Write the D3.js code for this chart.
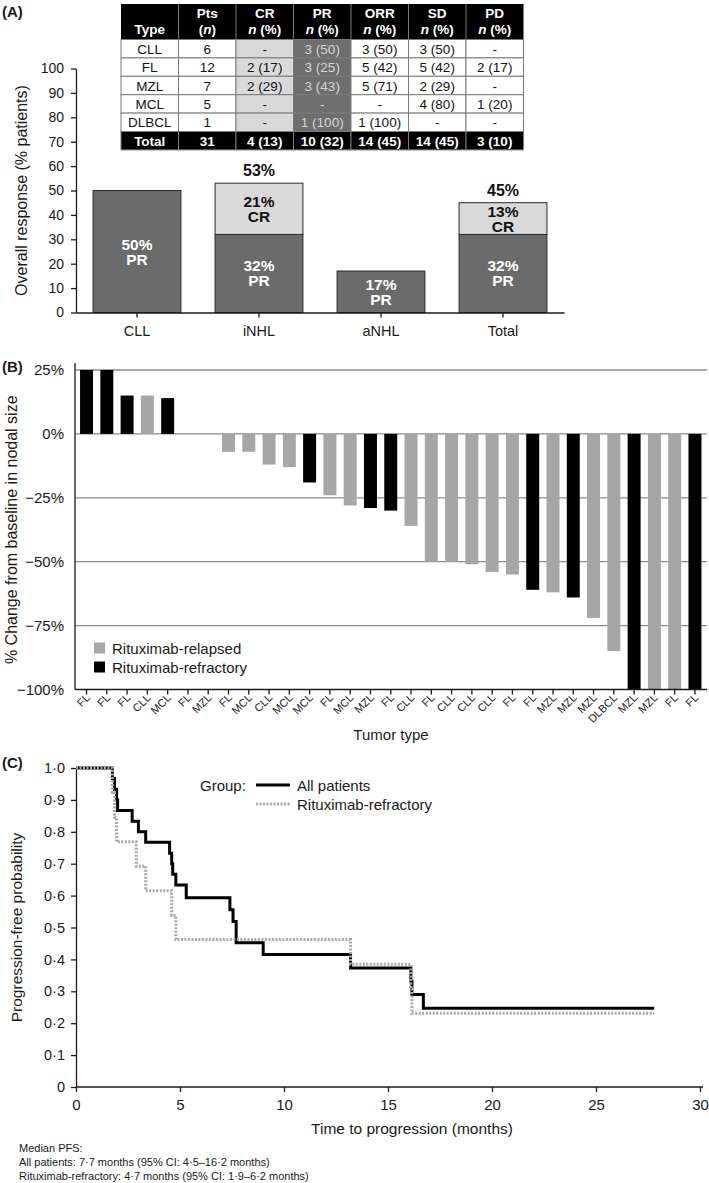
<!DOCTYPE html>
<html><head><meta charset="utf-8">
<script src="https://cdn.jsdelivr.net/npm/d3@7"></script>
<style>
body{margin:0;background:#fff;}
svg{display:block;}
</style></head><body>
<svg id="c" width="709" height="1183"></svg>
<script>
// ---------- Panel A data ----------
const groupsA = ["CLL","iNHL","aNHL","Total"];
const prA = [50,32,17,32];
const crA = [0,21,0,13];
const orrA = [50,53,17,45];
const orrLabelA = ["","53%","","45%"];
const yTicksA = [0,10,20,30,40,50,60,70,80,90,100];

// table
const tableTypes = ["CLL","FL","MZL","MCL","DLBCL","Total"];
const tablePts = ["6","12","7","5","1","31"];
const tableCR  = ["-","2 (17)","2 (29)","-","-","4 (13)"];
const tablePR  = ["3 (50)","3 (25)","3 (43)","-","1 (100)","10 (32)"];
const tableORR = ["3 (50)","5 (42)","5 (71)","-","1 (100)","14 (45)"];
const tableSD  = ["3 (50)","5 (42)","2 (29)","4 (80)","-","14 (45)"];
const tablePD  = ["-","2 (17)","-","1 (20)","-","3 (10)"];
const tableHead = ["Type","Pts","CR","PR","ORR","SD","PD"];

// ---------- Panel B data ----------
const tumorTypes = ["FL","FL","FL","CLL","MCL","FL","MZL","FL","MCL","CLL","MCL","MCL","FL","MCL","MZL","FL","CLL","FL","CLL","CLL","CLL","FL","FL","MZL","MZL","MZL","DLBCL","MZL","MZL","FL","FL"];
const nodalChange = [25,25,15,15,14,0,0,-7,-7,-12,-13,-19,-24,-28,-29,-30,-36,-50,-50,-51,-54,-55,-61,-62,-64,-72,-85,-100,-100,-100,-100];
const rituxStatus = ["ref","ref","ref","rel","ref","rel","rel","rel","rel","rel","rel","ref","rel","rel","ref","ref","rel","rel","rel","rel","rel","rel","ref","rel","ref","rel","rel","ref","rel","rel","ref"];
const yTicksB = [25,0,-25,-50,-75,-100];

// ---------- Panel C data ----------
const kmAllTime = [0,1.75,1.85,1.95,2.0,2.7,3.0,3.35,4.5,4.6,4.65,4.8,5.3,7.4,7.55,7.7,9.0,13.2,16.1,16.15,16.7,27.8];
const kmAllSurv = [1,0.967,0.933,0.9,0.867,0.833,0.8,0.767,0.733,0.7,0.667,0.633,0.593,0.556,0.519,0.452,0.415,0.373,0.332,0.29,0.247,0.247];
const kmRefTime = [0,1.75,1.85,1.95,2.9,3.35,4.6,4.8,13.2,16.1,16.15,27.8];
const kmRefSurv = [1,0.923,0.846,0.769,0.692,0.615,0.538,0.462,0.385,0.308,0.231,0.231];
const xTicksC = [0,5,10,15,20,25,30];
const yTicksC = [0,0.1,0.2,0.3,0.4,0.5,0.6,0.7,0.8,0.9,1.0];

// ---------- setup ----------
const FONT = '"Liberation Sans", Arial, Helvetica, sans-serif';
const INK = "#1a1a1a";
const svg = d3.select("#c").attr("font-family", FONT);

function styleAxis(g, fs){
  g.attr("font-family", FONT).attr("font-size", fs);
  g.selectAll("text").attr("fill", INK);
  g.selectAll(".tick line").attr("stroke", INK).attr("stroke-width", 1.3);
  g.select(".domain").attr("stroke", INK).attr("stroke-width", 1.3);
}
function panelLabel(t, y){
  svg.append("text").attr("x", 2).attr("y", y).attr("font-weight","bold").attr("font-size",15).attr("fill",INK).text(t);
}

// ================= Panel A =================
panelLabel("(A)", 17);
const xA = d3.scaleBand().domain(groupsA).range([76,564]).paddingInner(0.28).paddingOuter(0.14);
const yA = d3.scaleLinear().domain([0,100]).range([312.5,68.5]);
const gA = svg.append("g");

gA.append("g").attr("transform","translate(76,0)")
  .call(d3.axisLeft(yA).tickValues(yTicksA).tickSize(5).tickSizeOuter(0).tickPadding(7))
  .call(g=>styleAxis(g,14));

gA.selectAll("rect.pr").data(groupsA).join("rect").attr("class","pr")
  .attr("x", d=>xA(d)).attr("width", xA.bandwidth())
  .attr("y", (d,i)=>yA(prA[i])).attr("height", (d,i)=>yA(0)-yA(prA[i]))
  .attr("fill","#6b6b6b").attr("stroke","#2a2a2a").attr("stroke-width",1);
gA.selectAll("rect.cr").data(groupsA.filter((d,i)=>crA[i]>0)).join("rect").attr("class","cr")
  .attr("x", d=>xA(d)).attr("width", xA.bandwidth())
  .attr("y", d=>{const i=groupsA.indexOf(d); return yA(prA[i]+crA[i]);})
  .attr("height", d=>{const i=groupsA.indexOf(d); return yA(prA[i])-yA(prA[i]+crA[i]);})
  .attr("fill","#d9d9d9").attr("stroke","#2a2a2a").attr("stroke-width",1);

function twoLine(g, cx, cy, l1, l2, col){
  const t = g.append("text").attr("x",cx).attr("text-anchor","middle").attr("font-weight","bold")
    .attr("font-size",15.5).attr("fill",col);
  t.append("tspan").attr("x",cx).attr("y",cy-2).text(l1);
  t.append("tspan").attr("x",cx).attr("y",cy+13).text(l2);
}
groupsA.forEach((d,i)=>{
  const cx = xA(d)+xA.bandwidth()/2;
  twoLine(gA, cx, yA(prA[i]/2), prA[i]+"%", "PR", "#ffffff");
  if(crA[i]>0) twoLine(gA, cx, yA(prA[i]+crA[i]/2), crA[i]+"%", "CR", "#111");
  if(orrLabelA[i]) gA.append("text").attr("x",cx).attr("y",yA(orrA[i])-7).attr("text-anchor","middle")
    .attr("font-weight","bold").attr("font-size",16).attr("fill","#111").text(orrLabelA[i]);
});

gA.append("g").attr("transform",`translate(0,${yA(0)})`)
  .call(d3.axisBottom(xA).tickSize(5).tickSizeOuter(0).tickPadding(8))
  .call(g=>styleAxis(g,14.5));

gA.append("text").attr("transform",`translate(27,${(yA(0)+yA(100))/2}) rotate(-90)`)
  .attr("text-anchor","middle").attr("font-size",16).attr("fill",INK).text("Overall response (% patients)");

// ---- table ----
const tblX = 121, colW = 57.5, headTop = 4, headH = 35.5, rowH = 18.4;
const cols = [tableTypes, tablePts, tableCR, tablePR, tableORR, tableSD, tablePD];
const colFill = ["#fff","#fff","#d9d9d9","#6e6e6e","#fff","#fff","#fff"];
const colText = ["#111","#111","#111","#d6d6d6","#111","#111","#111"];
const gT = svg.append("g").attr("font-size",13.5);
// header
gT.append("rect").attr("x",tblX).attr("y",headTop).attr("width",colW*7).attr("height",headH).attr("fill","#000");
tableHead.forEach((h,c)=>{
  const cx = tblX + c*colW + colW/2;
  if(c===0){
    gT.append("text").attr("x",cx).attr("y",headTop+30).attr("text-anchor","middle").attr("font-weight","bold").attr("fill","#fff").text(h);
  } else {
    gT.append("text").attr("x",cx).attr("y",headTop+14).attr("text-anchor","middle").attr("font-weight","bold").attr("fill","#fff").text(h);
    const t2 = gT.append("text").attr("x",cx).attr("y",headTop+30).attr("text-anchor","middle").attr("font-weight","bold").attr("fill","#fff");
    if(c===1){ t2.append("tspan").text("("); t2.append("tspan").attr("font-style","italic").text("n"); t2.append("tspan").text(")"); }
    else { t2.append("tspan").attr("font-style","italic").text("n"); t2.append("tspan").text(" (%)"); }
  }
  if(c>0) gT.append("line").attr("x1",tblX+c*colW).attr("x2",tblX+c*colW).attr("y1",headTop).attr("y2",headTop+headH).attr("stroke","#777").attr("stroke-width",1);
});
// body rows
tableTypes.forEach((tp,r)=>{
  const y0 = headTop + headH + r*rowH;
  const isTotal = r===tableTypes.length-1;
  cols.forEach((col,c)=>{
    const x0 = tblX + c*colW;
    gT.append("rect").attr("x",x0).attr("y",y0).attr("width",colW).attr("height",rowH)
      .attr("fill", isTotal ? "#000" : colFill[c]).attr("stroke", "#7a7a7a").attr("stroke-width",1);
    gT.append("text").attr("x",x0+colW/2).attr("y",y0+rowH/2+0.5).attr("dominant-baseline","central")
      .attr("text-anchor","middle").attr("font-weight", isTotal?"bold":"normal")
      .attr("fill", isTotal ? "#fff" : colText[c]).text(col[r]);
  });
});

// ================= Panel B =================
panelLabel("(B)", 372);
const xB = d3.scaleBand().domain(d3.range(nodalChange.length)).range([76.4,705.1]).paddingInner(0.36).paddingOuter(0.18);
const yB = d3.scaleLinear().domain([-100,25]).range([689.5,370]);
const gB = svg.append("g");
const colorB = d3.scaleOrdinal().domain(["rel","ref"]).range(["#a6a6a6","#000000"]);

gB.selectAll("line.grid").data([25,0,-25,-50,-75]).join("line").attr("class","grid")
  .attr("x1",75).attr("x2",707).attr("y1",d=>yB(d)).attr("y2",d=>yB(d))
  .attr("stroke","#8c8c8c").attr("stroke-width",1.3);

gB.selectAll("rect").data(nodalChange).join("rect")
  .attr("x",(d,i)=>xB(i)).attr("width",xB.bandwidth())
  .attr("y",d=>yB(Math.max(0,d))).attr("height",d=>Math.abs(yB(d)-yB(0)))
  .attr("fill",(d,i)=>colorB(rituxStatus[i]));

gB.append("g").attr("transform","translate(75,0)")
  .call(d3.axisLeft(yB).tickValues(yTicksB).tickSize(0).tickPadding(11).tickFormat(d=>(d<0?"\u2212"+(-d):d)+"%"))
  .call(g=>styleAxis(g,15))
  .call(g=>g.select(".domain").remove());
gB.append("line").attr("x1",75).attr("x2",75).attr("y1",363).attr("y2",yB(-100)).attr("stroke",INK).attr("stroke-width",1.3);

const axB = gB.append("g").attr("transform",`translate(0,${yB(-100)})`)
  .call(d3.axisBottom(xB).tickSize(5).tickSizeOuter(0).tickFormat(""))
  .call(g=>styleAxis(g,11));
axB.select(".domain").attr("d","M75,0H707");
gB.selectAll("text.tt").data(tumorTypes).join("text").attr("class","tt")
  .attr("transform",(d,i)=>`translate(${xB(i)+xB.bandwidth()/2+4},${yB(-100)+9}) rotate(-45)`)
  .attr("text-anchor","end").attr("font-size",11).attr("fill",INK).text(d=>d);

gB.append("text").attr("transform",`translate(17,${(yB(25)+yB(-100))/2}) rotate(-90)`)
  .attr("text-anchor","middle").attr("font-size",16).attr("fill",INK).text("% Change from baseline in nodal size");
gB.append("text").attr("x",391).attr("y",740).attr("text-anchor","middle").attr("font-size",15).attr("fill",INK).text("Tumor type");

// legend B
const legB = [["rel","Rituximab-relapsed"],["ref","Rituximab-refractory"]];
legB.forEach((l,i)=>{
  const y = 648 + i*19;
  gB.append("rect").attr("x",94).attr("y",y-5.5).attr("width",11).attr("height",11).attr("fill",colorB(l[0]));
  gB.append("text").attr("x",112).attr("y",y).attr("dominant-baseline","central").attr("font-size",15).attr("fill",INK).text(l[1]);
});

// ================= Panel C =================
panelLabel("(C)", 768);
const xC = d3.scaleLinear().domain([0,30]).range([76,700]);
const yC = d3.scaleLinear().domain([0,1]).range([1087,768]);
const gC = svg.append("g");
const fmtDot = d => d===0 ? "0" : d3.format(".1f")(d).replace(".","\u00B7");

gC.append("g").attr("transform","translate(76,0)")
  .call(d3.axisLeft(yC).tickValues(yTicksC).tickSize(5).tickSizeOuter(0).tickPadding(6).tickFormat(fmtDot))
  .call(g=>styleAxis(g,14.5));
gC.append("g").attr("transform",`translate(0,1087)`)
  .call(d3.axisBottom(xC).tickValues(xTicksC).tickSize(5).tickSizeOuter(0).tickPadding(7))
  .call(g=>styleAxis(g,15))
  .call(g=>g.select(".domain").attr("d","M76,0H703"));

const lineC = d3.line().x(d=>xC(d[0])).y(d=>yC(d[1])).curve(d3.curveStepAfter);
const allPts = kmAllTime.map((t,i)=>[t,kmAllSurv[i]]);
const refPts = kmRefTime.map((t,i)=>[t,kmRefSurv[i]]);
gC.append("path").attr("d",lineC(allPts)).attr("fill","none").attr("stroke","#000").attr("stroke-width",3);
gC.append("path").attr("d",lineC(refPts)).attr("fill","none").attr("stroke","#a8a8a8").attr("stroke-width",3).attr("stroke-dasharray","2,1.5");

gC.append("text").attr("transform",`translate(22,${(yC(0)+yC(1))/2}) rotate(-90)`)
  .attr("text-anchor","middle").attr("font-size",15.5).attr("fill",INK).text("Progression-free probability");
gC.append("text").attr("x",412).attr("y",1134).attr("text-anchor","middle").attr("font-size",15.5).attr("fill",INK).text("Time to progression (months)");

// legend C
gC.append("text").attr("x",200).attr("y",785).attr("dominant-baseline","central").attr("font-size",15).attr("fill",INK).text("Group:");
gC.append("line").attr("x1",256).attr("x2",290).attr("y1",785).attr("y2",785).attr("stroke","#000").attr("stroke-width",3);
gC.append("text").attr("x",297).attr("y",785).attr("dominant-baseline","central").attr("font-size",15).attr("fill",INK).text("All patients");
gC.append("line").attr("x1",256).attr("x2",290).attr("y1",804).attr("y2",804).attr("stroke","#a8a8a8").attr("stroke-width",3).attr("stroke-dasharray","2,1.5");
gC.append("text").attr("x",297).attr("y",804).attr("dominant-baseline","central").attr("font-size",15).attr("fill",INK).text("Rituximab-refractory");

// footnote
const notes = ["Median PFS:","All patients: 7\u00B77 months (95% CI: 4\u00B75\u201316\u00B72 months)","Rituximab-refractory: 4\u00B77 months (95% CI: 1\u00B79\u20136\u00B72 months)"];
notes.forEach((n,i)=>{
  svg.append("text").attr("x",19).attr("y",1152+i*14).attr("font-size",11).attr("fill",INK).text(n);
});
</script>
</body></html>
